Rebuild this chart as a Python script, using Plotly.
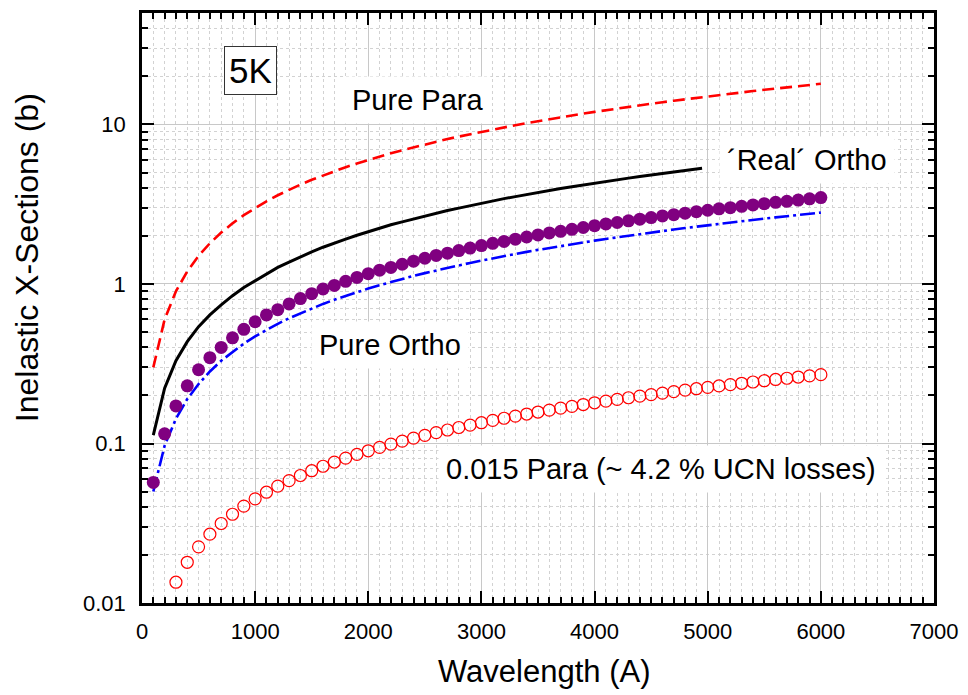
import math
import plotly.graph_objects as go

# ---------------- data ----------------
wavelength = list(range(100, 6001, 100))

pure_para = [0.30, 0.60, 0.90, 1.2, 1.5, 1.8, 2.1, 2.4, 2.7, 3.0,
             3.3, 3.6, 3.9, 4.2, 4.5, 4.8, 5.1, 5.4, 5.7, 6.0,
             6.3, 6.6, 6.9, 7.2, 7.5, 7.8, 8.1, 8.4, 8.7, 9.0,
             9.3, 9.6, 9.9, 10.2, 10.5, 10.8, 11.1, 11.4, 11.7, 12.0,
             12.3, 12.6, 12.9, 13.2, 13.5, 13.8, 14.1, 14.4, 14.7, 15.0,
             15.3, 15.6, 15.9, 16.2, 16.5, 16.8, 17.1, 17.4, 17.7, 18.0]

real_ortho_wl = list(range(100, 5000, 100)) + [4950]
real_ortho = [0.113, 0.222, 0.330, 0.435, 0.540, 0.640, 0.740, 0.845, 0.950, 1.05,
              1.16, 1.27, 1.37, 1.48, 1.59, 1.70, 1.81, 1.91, 2.02, 2.13,
              2.24, 2.35, 2.45, 2.56, 2.67, 2.78, 2.89, 2.99, 3.10, 3.21,
              3.32, 3.43, 3.53, 3.64, 3.75, 3.86, 3.97, 4.07, 4.18, 4.29,
              4.40, 4.51, 4.61, 4.72, 4.83, 4.94, 5.05, 5.15, 5.26, 5.31]

pure_ortho = [0.050, 0.097, 0.143, 0.190, 0.236, 0.283, 0.330, 0.376, 0.423, 0.470,
              0.516, 0.563, 0.610, 0.656, 0.703, 0.750, 0.796, 0.843, 0.890, 0.936,
              0.983, 1.030, 1.076, 1.123, 1.170, 1.216, 1.263, 1.310, 1.356, 1.403,
              1.450, 1.496, 1.543, 1.590, 1.636, 1.683, 1.730, 1.776, 1.823, 1.870,
              1.916, 1.963, 2.010, 2.056, 2.103, 2.150, 2.196, 2.243, 2.290, 2.336,
              2.383, 2.430, 2.476, 2.523, 2.570, 2.616, 2.663, 2.710, 2.756, 2.803]

mixture = [0.057, 0.115, 0.172, 0.230, 0.290, 0.345, 0.400, 0.460, 0.520, 0.580,
           0.640, 0.690, 0.750, 0.810, 0.870, 0.930, 0.980, 1.04, 1.10, 1.16,
           1.22, 1.27, 1.33, 1.39, 1.45, 1.51, 1.56, 1.62, 1.68, 1.74,
           1.80, 1.85, 1.91, 1.97, 2.03, 2.09, 2.14, 2.20, 2.26, 2.32,
           2.38, 2.43, 2.49, 2.55, 2.61, 2.67, 2.72, 2.78, 2.84, 2.90,
           2.96, 3.01, 3.07, 3.13, 3.19, 3.25, 3.30, 3.36, 3.42, 3.48]

para_frac_wl = list(range(200, 6001, 100))
para_frac = [0.0090, 0.0135, 0.0180, 0.0225, 0.0270, 0.0315, 0.0360, 0.0405, 0.0450,
             0.0495, 0.0540, 0.0585, 0.0630, 0.0675, 0.0720, 0.0765, 0.0810, 0.0855, 0.0900,
             0.0945, 0.0990, 0.1035, 0.1080, 0.1125, 0.1170, 0.1215, 0.1260, 0.1305, 0.1350,
             0.1395, 0.1440, 0.1485, 0.1530, 0.1575, 0.1620, 0.1665, 0.1710, 0.1755, 0.1800,
             0.1845, 0.1890, 0.1935, 0.1980, 0.2025, 0.2070, 0.2115, 0.2160, 0.2205, 0.2250,
             0.2295, 0.2340, 0.2385, 0.2430, 0.2475, 0.2520, 0.2565, 0.2610, 0.2655, 0.2700]

x_ticks = [0, 1000, 2000, 3000, 4000, 5000, 6000, 7000]
y_ticks = [0.01, 0.1, 1, 10]
y_tick_text = ["0.01", "0.1", "1", "10"]
y_minor = [m * 10 ** d for d in range(-2, 2) for m in range(2, 10)]

FONT = "Liberation Sans, Arial, sans-serif"

fig = go.Figure()
fig.add_trace(go.Scatter(x=wavelength, y=pure_para, mode="lines",
                         line=dict(color="#ff0000", width=2.6, dash="12px,6px")))
fig.add_trace(go.Scatter(x=real_ortho_wl, y=real_ortho, mode="lines",
                         line=dict(color="black", width=3)))
fig.add_trace(go.Scatter(x=wavelength, y=pure_ortho, mode="lines",
                         line=dict(color="#0000ff", width=2.6, dash="15px,4px,3px,4px")))
fig.add_trace(go.Scatter(x=wavelength, y=mixture, mode="markers",
                         marker=dict(symbol="circle", size=13, color="#800080",
                                     line=dict(width=0))))
fig.add_trace(go.Scatter(x=para_frac_wl, y=para_frac, mode="markers",
                         marker=dict(symbol="circle-open", size=12, color="#ff0000",
                                     line=dict(width=1.2, color="#ff0000"))))

axis_common = dict(
    showline=True, linewidth=2.6, linecolor="black", mirror="allticks",
    ticks="inside", ticklen=12, tickwidth=2, tickcolor="black",
    showgrid=True, gridcolor="#c8c8c8", gridwidth=1, zeroline=False,
    tickfont=dict(family=FONT, size=22, color="black"),
)

fig.update_xaxes(range=[0, 7000], tickvals=x_ticks, ticklabelstandoff=7,
                 minor=dict(tick0=0, dtick=100, ticks="inside", ticklen=6, tickwidth=2,
                            tickcolor="black", showgrid=True, gridcolor="#d2d2d2",
                            griddash="dot", gridwidth=1),
                 **axis_common)
fig.update_yaxes(type="log", range=[-2, math.log10(50)], tickvals=y_ticks,
                 ticktext=y_tick_text, ticklabelstandoff=9,
                 minor=dict(tickmode="array", tickvals=y_minor, ticks="inside", ticklen=6,
                            tickwidth=2, tickcolor="black", showgrid=True,
                            gridcolor="#d2d2d2", griddash="dot", gridwidth=1),
                 **axis_common)

def ann(text, x, y, size, **kw):
    d = dict(text=text, x=x, y=y, xref="x", yref="y", showarrow=False,
             font=dict(family=FONT, size=size, color="black"),
             bgcolor="white", xanchor="center", yanchor="middle")
    d.update(kw)
    fig.add_annotation(**d)

ann("5K", 960, 1.337, 35, bordercolor="#333333", borderwidth=1, borderpad=4)
ann("Pure Para", 2439, 1.153, 29, borderpad=7)
ann("\u00b4Real\u00b4 Ortho", 5880, 0.779, 29, borderpad=7)
ann("Pure Ortho", 2195, -0.380, 29, borderpad=7)
ann("0.015 Para (~ 4.2 % UCN losses)", 4590, -1.160, 29, borderpad=7)

# axis titles
fig.add_annotation(text="Wavelength (A)", x=(546 - 142) / 795, y=(603 - 672) / 593,
                   xref="paper", yref="paper", showarrow=False,
                   xanchor="center", yanchor="middle",
                   font=dict(family=FONT, size=31, color="black"))
fig.add_annotation(text="Inelastic X-Sections (b)", x=(26 - 142) / 795, y=(603 - 256) / 593,
                   xref="paper", yref="paper", showarrow=False, textangle=-90,
                   xanchor="center", yanchor="middle",
                   font=dict(family=FONT, size=32, color="black"))

fig.update_layout(width=968, height=695, margin=dict(l=142, r=31, t=10, b=92),
                  paper_bgcolor="white", plot_bgcolor="white", showlegend=False,
                  font=dict(family=FONT, color="black"))

fig.write_html("out.html")
